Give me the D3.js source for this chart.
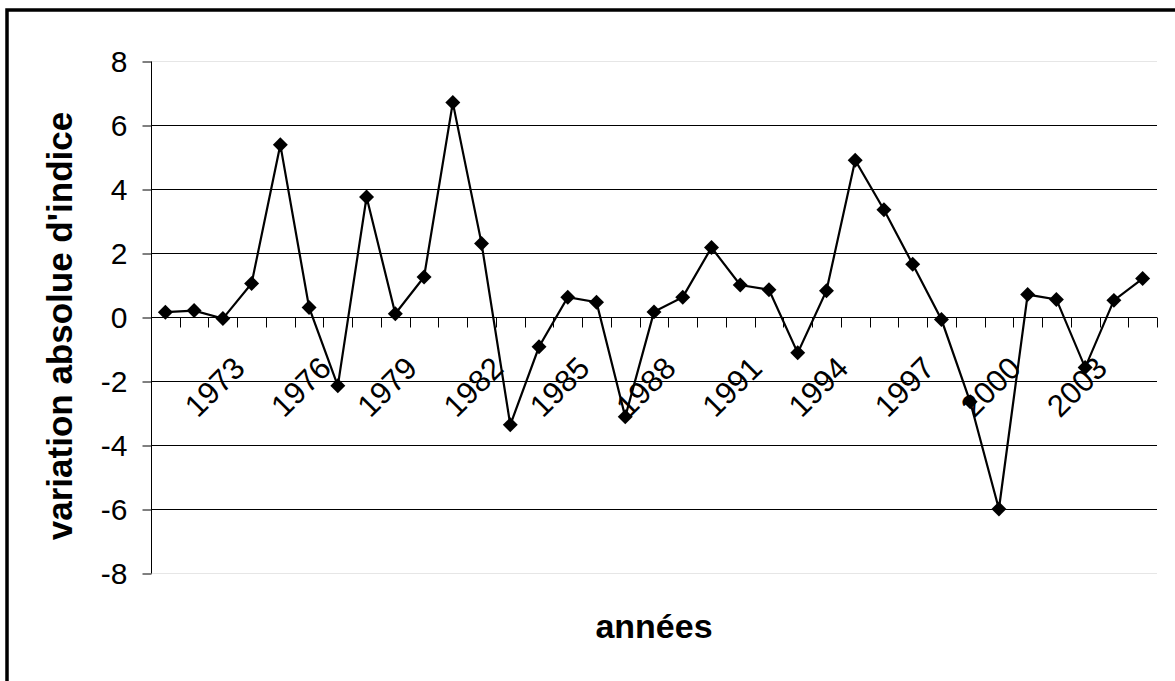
<!DOCTYPE html>
<html>
<head>
<meta charset="utf-8">
<script src="https://cdn.jsdelivr.net/npm/d3@7"></script>
<style>
  html, body { margin: 0; padding: 0; background: #fff; }
  svg { display: block; }
  text { font-family: "Liberation Sans", Arial, sans-serif; fill: #000; }
</style>
</head>
<body>
<svg id="chart" width="1175" height="681"></svg>
<script>
// ---- data ----
const years = d3.range(1970, 2005).map(String);
const values = [0.15, 0.2, -0.05, 1.05, 5.38, 0.3, -2.15, 3.75, 0.1, 1.25,
                6.7, 2.3, -3.37, -0.93, 0.62, 0.46, -3.12, 0.16, 0.62, 2.17,
                1.0, 0.85, -1.12, 0.82, 4.9, 3.35, 1.65, -0.08, -2.65, -6.0,
                0.7, 0.55, -1.58, 0.52, 1.2];
const xTickLabels = ["1973","1976","1979","1982","1985","1988","1991","1994","1997","2000","2003"];
const yTicks = [-8, -6, -4, -2, 0, 2, 4, 6, 8];
const yTitle = "variation absolue d'indice";
const xTitle = "années";

(function () {
// ---- layout ----
const svg = d3.select("#chart");
const pLeft = 151, pRight = 1157, pTop = 61, pBottom = 573;

const x = d3.scaleBand().domain(years).range([pLeft, pRight]).padding(0);
const y = d3.scaleLinear().domain([-8, 8]).range([pBottom, pTop]);

svg.append("rect").attr("width", 1175).attr("height", 681).attr("fill", "#fff");

// outer border (left & top visible)
svg.append("rect")
  .attr("x", 7).attr("y", 10).attr("width", 1300).attr("height", 800)
  .attr("fill", "none").attr("stroke", "#000").attr("stroke-width", 3.5);

// gridlines
svg.append("g").selectAll("line")
  .data(yTicks.filter(v => v !== 0))
  .join("line")
  .attr("x1", pLeft).attr("x2", pRight)
  .attr("y1", d => Math.round(y(d)) + 0.5).attr("y2", d => Math.round(y(d)) + 0.5)
  .attr("stroke", d => (d === 8 || d === -8) ? "#e6e6e6" : "#000")
  .attr("stroke-width", 1);

// y axis
const yAxis = svg.append("g")
  .attr("transform", `translate(${pLeft + 0.5},0.5)`)
  .call(d3.axisLeft(y).tickValues(yTicks).tickSize(9).tickPadding(15).tickFormat(d3.format("d")));
yAxis.select(".domain").attr("stroke", "#000").attr("d", `M0,${y(8)}V${y(-8)}`);
yAxis.selectAll(".tick line").attr("stroke", "#000");
yAxis.selectAll("text").style("font-size", "30px").attr("font-family", null)
  .text(d => d < 0 ? "-" + Math.abs(d) : String(d));

// x axis line at 0
const y0 = Math.round(y(0)) + 0.5;
svg.append("line").attr("x1", pLeft).attr("x2", pRight).attr("y1", y0).attr("y2", y0)
  .attr("stroke", "#000").attr("stroke-width", 1);

// x tick marks at category boundaries
const bounds = years.map(d => x(d)).concat([x(years[years.length - 1]) + x.bandwidth()]);
svg.append("g").selectAll("line").data(bounds).join("line")
  .attr("x1", d => Math.round(d) + 0.5).attr("x2", d => Math.round(d) + 0.5)
  .attr("y1", y0).attr("y2", y0 + 10)
  .attr("stroke", "#000");

// x tick labels, rotated
svg.append("g").selectAll("text").data(xTickLabels).join("text")
  .attr("transform", d => `translate(${x(d) + x.bandwidth() / 2 - 5},370) rotate(-45)`)
  .attr("text-anchor", "end")
  .style("font-size", "31px")
  .text(d => d);

// line
const line = d3.line()
  .x((d, i) => x(years[i]) + x.bandwidth() / 2)
  .y(d => y(d));
svg.append("path").datum(values)
  .attr("d", line).attr("fill", "none").attr("stroke", "#000").attr("stroke-width", 2.2)
  .attr("stroke-linejoin", "miter");

// markers (diamonds)
const sym = d3.symbol().type(d3.symbolSquare).size(112);
svg.append("g").selectAll("path").data(values).join("path")
  .attr("d", sym)
  .attr("transform", (d, i) => `translate(${x(years[i]) + x.bandwidth() / 2},${y(d)}) rotate(45)`)
  .attr("fill", "#000");

// axis titles
svg.append("text")
  .attr("transform", "translate(71.5,326) rotate(-90)")
  .attr("text-anchor", "middle")
  .style("font-size", "35px").style("font-weight", "bold")
  .text(yTitle);

svg.append("text")
  .attr("x", 654).attr("y", 638)
  .attr("text-anchor", "middle")
  .style("font-size", "34px").style("font-weight", "bold")
  .text(xTitle);
})();
</script>
</body>
</html>
